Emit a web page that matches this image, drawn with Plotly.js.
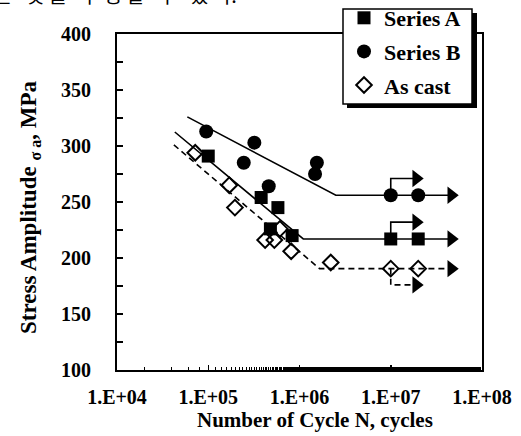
<!DOCTYPE html>
<html><head><meta charset="utf-8">
<script src="https://cdn.plot.ly/plotly-3.0.1.min.js"></script>
<style>html,body{margin:0;padding:0;background:#fff;}#chart{width:521px;height:436px;}</style>
</head><body><div id="chart"></div>
<script>
// ---- data ----
const seriesA_N = [1.0e5, 3.8e5, 4.8e5, 5.8e5, 8.3e5, 1e7, 2e7];
const seriesA_S = [291, 254, 226, 245, 220, 217, 217];
const seriesB_N = [9.5e4, 2.45e5, 3.2e5, 4.6e5, 1.48e6, 1.55e6, 1e7, 2e7];
const seriesB_S = [313, 285, 303, 264, 275, 285, 256, 256];
const asCast_N = [7.2e4, 1.7e5, 1.96e5, 4.2e5, 5.3e5, 6.1e5, 8.1e5, 2.2e6, 1e7, 2e7];
const asCast_S = [294, 265, 245, 216, 216, 226, 206, 196, 190.5, 190.5];

// fitted S-N curves (knee, then run-out plateau ending in an arrow)
const fitA_N = [4.3e4, 1.1e6, 4.6e7];
const fitA_S = [312.5, 217, 217];
const fitB_N = [5.9e4, 2.5e6, 4.6e7];
const fitB_S = [326, 256, 256];
const fitC_N = [4.2e4, 1.66e6, 4.6e7];
const fitC_S = [301, 190.5, 190.5];

// bent run-out arrows drawn from the 1E+07 run-out specimens
const runA_N = [1e7, 1e7, 1.9e7];
const runA_S = [217, 232, 232];
const runB_N = [1e7, 1e7, 1.9e7];
const runB_S = [256, 271, 271];
const runC_N = [1e7, 1e7, 1.9e7];
const runC_S = [190.5, 176, 176];

const xTickVals = [1e4, 1e5, 1e6, 1e7, 1e8];
const xTickText = ['1.E+04', '1.E+05', '1.E+06', '1.E+07', '1.E+08'];
const legendNames = ['Series A', 'Series B', 'As cast'];

// ---- layout helpers (pixel -> paper) ----
const L = 117, R = 482, T = 34, B = 370;
const px = x => (x - L) / (R - L);
const py = y => (B - y) / (B - T);

const serif = '"Liberation Serif", "Times New Roman", serif';
const blk = '#000';

function line(xs, ys, dash) {
  return {x: xs, y: ys, type: 'scatter', mode: 'lines', showlegend: false, hoverinfo: 'skip',
          line: {color: blk, width: 1.6, dash: dash || 'solid'}};
}
function head(xs, ys) {
  return {x: [xs[xs.length - 1]], y: [ys[ys.length - 1]], type: 'scatter', mode: 'markers',
          showlegend: false, hoverinfo: 'skip',
          marker: {symbol: 'triangle-right', size: 15, color: blk, line: {width: 0}}};
}
const dashPat = '6px,4px';

const traces = [
  line(fitA_N, fitA_S), line(fitB_N, fitB_S), line(fitC_N, fitC_S, dashPat),
  line(runA_N, runA_S), line(runB_N, runB_S), line(runC_N, runC_S, dashPat),
  head(fitA_N, fitA_S), head(fitB_N, fitB_S), head(fitC_N, fitC_S),
  head(runA_N, runA_S), head(runB_N, runB_S), head(runC_N, runC_S),
  {x: seriesA_N, y: seriesA_S, name: legendNames[0], legendgroup: 'a', type: 'scatter', mode: 'markers',
   marker: {symbol: 'square', size: 13, color: blk}},
  {x: seriesB_N, y: seriesB_S, name: legendNames[1], legendgroup: 'b', type: 'scatter', mode: 'markers',
   marker: {symbol: 'circle', size: 14, color: blk}},
  {x: asCast_N, y: asCast_S, name: legendNames[2], legendgroup: 'c', type: 'scatter', mode: 'markers',
   marker: {symbol: 'diamond-open', size: 12, color: blk, line: {width: 2, color: blk}}}
];

const layout = {
  width: 521, height: 436,
  margin: {l: L, r: 521 - R, t: T, b: 436 - B, pad: 0, autoexpand: false},
  paper_bgcolor: '#fff', plot_bgcolor: '#fff',
  font: {family: serif, color: blk, size: 20},
  showlegend: true,
  legend: {x: px(344), y: py(-3), xanchor: 'left', yanchor: 'top', bgcolor: 'rgba(0,0,0,0)',
           borderwidth: 0, traceorder: 'grouped', tracegroupgap: 2,
           font: {family: serif, size: 22, weight: 'bold', color: blk}},
  xaxis: {type: 'log', range: [4, 8], tickvals: xTickVals, ticktext: xTickText,
          ticks: 'inside', ticklen: 5, tickwidth: 1.5, tickcolor: blk,
          showline: true, linewidth: 2, linecolor: blk, mirror: true,
          showgrid: false, zeroline: false, ticklabelstandoff: 8,
          tickfont: {family: serif, size: 20, weight: 'bold', color: blk},
          minor: {ticks: 'inside', ticklen: 3, tickwidth: 1, tickcolor: blk, showgrid: false}},
  yaxis: {range: [100, 400], tick0: 100, dtick: 50,
          ticks: 'inside', ticklen: 6, tickwidth: 1.5, tickcolor: blk,
          showline: true, linewidth: 2, linecolor: blk, mirror: true,
          showgrid: false, zeroline: false, ticklabelstandoff: 20,
          tickfont: {family: serif, size: 20, weight: 'bold', color: blk},
          minor: {dtick: 25, ticks: 'inside', ticklen: 6, tickwidth: 1.5, tickcolor: blk, showgrid: false}},
  shapes: [
    // legend box with drop shadow (drawn over the frame corner, as in the reference)
    {type: 'rect', xref: 'paper', yref: 'paper', x0: px(347), x1: px(477), y0: py(13), y1: py(108),
     fillcolor: blk, line: {width: 0}, layer: 'above'},
    {type: 'rect', xref: 'paper', yref: 'paper', x0: px(343), x1: px(472), y0: py(9), y1: py(104),
     fillcolor: '#fff', line: {width: 1.5, color: blk}, layer: 'above'}
  ],
  annotations: [
    {text: 'Number of Cycle N, cycles', xref: 'paper', yref: 'paper', x: px(315), y: py(420),
     xanchor: 'center', yanchor: 'middle', showarrow: false,
     font: {family: serif, size: 21, weight: 'bold', color: blk}},
    {text: 'Stress Amplitude <sub>σ a</sub>, MPa', xref: 'paper', yref: 'paper', x: px(30), y: py(208),
     xanchor: 'center', yanchor: 'middle', textangle: -90, showarrow: false,
     font: {family: serif, size: 23, weight: 'bold', color: blk}},
    {text: '는   것 을   추 정 할   수   있 다.', xref: 'paper', yref: 'paper', x: px(-8), y: py(11),
     xanchor: 'left', yanchor: 'bottom', showarrow: false,
     font: {family: 'Noto Sans CJK KR', size: 20, color: blk}}
  ]
};

Plotly.newPlot('chart', traces, layout, {displayModeBar: false, staticPlot: true});
</script></body></html>
